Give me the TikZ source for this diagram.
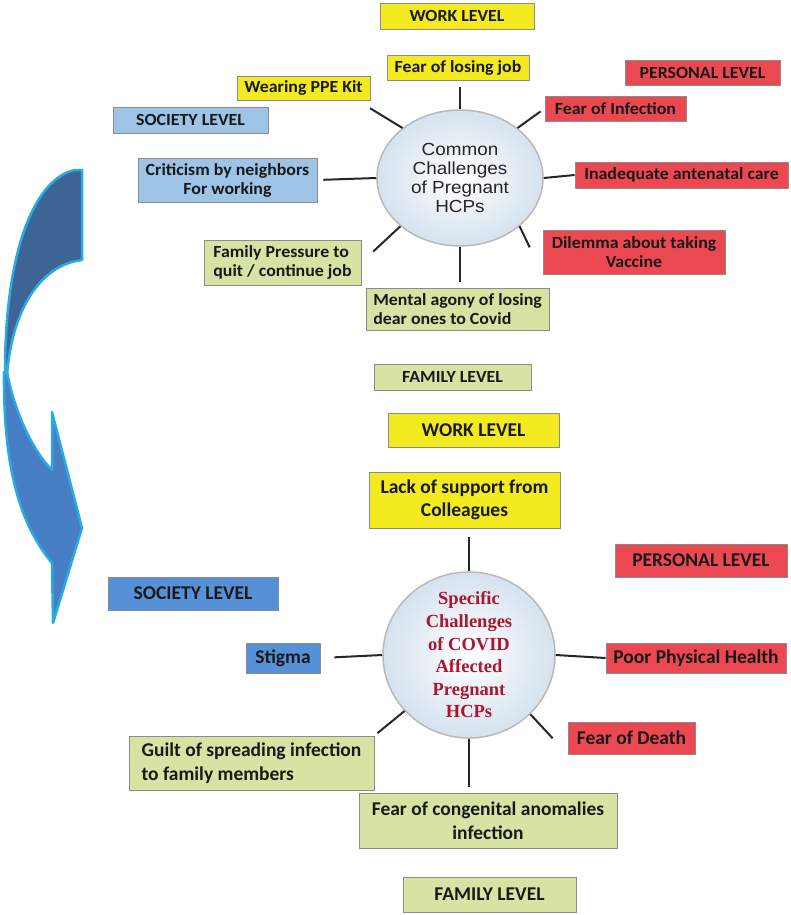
\documentclass[tikz,border=0pt]{standalone}
\usepackage{fontspec}
\usetikzlibrary{shapes.geometric,shadows}
\newfontfamily\topfont[FakeStretch=1.05]{Carlito}
\newfontfamily\botfont{Carlito}
\newfontfamily\hubfont[FakeStretch=1.08]{Liberation Sans}
\newfontfamily\hubserif{Liberation Serif}
\definecolor{wyel}{RGB}{243,234,31}
\definecolor{pred}{RGB}{236,72,82}
\definecolor{sblue}{RGB}{157,195,230}
\definecolor{sbluedk}{RGB}{86,144,214}
\definecolor{fgreen}{RGB}{214,227,163}
\definecolor{boxline}{RGB}{140,140,140}
\definecolor{arrowdark}{RGB}{62,100,150}
\definecolor{arrowlight}{RGB}{72,126,196}
\definecolor{arrowedge}{RGB}{40,170,226}
\definecolor{hubred}{RGB}{170,22,48}
\definecolor{hubrim}{RGB}{214,226,238}
\begin{document}
\begin{tikzpicture}[x=1pt, y=-1pt,
	box/.style={draw=boxline, line width=0.8pt, inner sep=0pt, text=black!90, align=center, drop shadow={shadow xshift=1.2pt, shadow yshift=-1.2pt, opacity=0.3}},
	tbox/.style={box, font=\topfont\bfseries\fontsize{17}{19}\selectfont},
	bbox/.style={box, font=\botfont\bfseries\fontsize{19.5}{23.5}\selectfont},
	hub/.style={ellipse, draw=gray!55, line width=1.5pt, inner sep=0pt, inner color=white, outer color=hubrim},
	spoke/.style={line width=2pt, black!85}]
\useasboundingbox (0,0) rectangle (790,915);
\filldraw[fill=arrowlight, draw=arrowedge, line width=2.5pt, line join=round] (7,372) .. controls (14,410) and (32,450) .. (52,470) -- (52,412) -- (82,528) -- (53,623) -- (52,563) .. controls (25,530) and (3,480) .. (4,372) -- cycle;
\filldraw[fill=arrowdark, draw=arrowedge, line width=2.5pt, line join=round] (82,170) -- (82,260) .. controls (40,265) and (12,310) .. (7,375) -- (5,372) .. controls (5,250) and (35,178) .. (75,170) -- cycle;
\node[hub, minimum width=166, minimum height=136] (c1) at (460,178) {};
\node[font=\hubfont\fontsize{17.5}{19}\selectfont, align=center, text=black!85] (c1txt) at (c1.center) {Common\\Challenges\\of Pregnant\\HCPs};
\node[tbox, fill=wyel, minimum width=154, minimum height=26] (wk1) at (457,16) {WORK LEVEL};
\node[tbox, fill=wyel, minimum width=142, minimum height=25] (jobloss) at (458,67.5) {Fear of losing job};
\node[tbox, fill=wyel, minimum width=133, minimum height=24] (ppe) at (303.5,88) {Wearing PPE Kit};
\node[tbox, fill=pred, minimum width=155, minimum height=25] (ps1) at (702.5,72.5) {PERSONAL LEVEL};
\node[tbox, fill=sblue, minimum width=155, minimum height=26] (so1) at (190.5,120) {SOCIETY LEVEL};
\node[tbox, fill=pred, minimum width=141, minimum height=25] (infect) at (615.5,108.5) {Fear of Infection};
\node[tbox, fill=sblue, minimum width=179, minimum height=44] (critic) at (227.5,180) {Criticism by neighbors\\For working};
\node[tbox, fill=pred, minimum width=213, minimum height=26] (inadeq) at (681.5,175) {Inadequate antenatal care};
\node[tbox, fill=fgreen, align=left, minimum width=157, minimum height=45] (famp) at (282.5,262.5) {Family Pressure to\\quit / continue job};
\node[tbox, fill=pred, minimum width=182, minimum height=44] (dilem) at (634,252) {Dilemma about taking\\Vaccine};
\node[tbox, fill=fgreen, align=left, minimum width=183, minimum height=42] (mental) at (457.5,309) {Mental agony of losing\\dear ones to Covid};
\node[tbox, fill=fgreen, minimum width=157, minimum height=26] (fam1) at (452.5,377) {FAMILY LEVEL};
\foreach \s/\t/\k in {c1.north/c1.north |- jobloss.south/7, c1.139/ppe.-13/15, c1.41/infect.west/5, c1.west/critic.east/6, c1.east/inadeq.west/0, c1.-141/famp.east/16, c1.-39/dilem.south west/30, c1.south/c1.south |- mental.north/6}
	\draw[spoke, shorten >=\k] (\s) -- (\t);
\node[hub, minimum width=172, minimum height=166] (c2) at (469,655) {};
\node[font=\hubserif\bfseries\fontsize{18.5}{22.6}\selectfont, align=center, text=hubred] (c2txt) at (c2.center) {Specific\\Challenges\\of COVID\\Affected\\Pregnant\\HCPs};
\node[bbox, fill=wyel, minimum width=171, minimum height=34] (wk2) at (473.5,430) {WORK LEVEL};
\node[bbox, fill=wyel, minimum width=191, minimum height=56] (lack) at (464.5,500) {Lack of support from\\Colleagues};
\node[bbox, fill=pred, minimum width=172, minimum height=33] (ps2) at (701,560.5) {PERSONAL LEVEL};
\node[bbox, fill=sbluedk, minimum width=170, minimum height=33] (so2) at (193,593.5) {SOCIETY LEVEL};
\node[bbox, fill=sbluedk, minimum width=74, minimum height=30] (stigma) at (283,658) {Stigma};
\node[bbox, fill=pred, minimum width=180, minimum height=30] (poor) at (696,658) {Poor Physical Health};
\node[bbox, fill=pred, minimum width=127, minimum height=32] (death) at (631.5,738) {Fear of Death};
\node[bbox, fill=fgreen, align=left, minimum width=245, minimum height=54] (guilt) at (251.5,763) {Guilt of spreading infection\\to family members};
\node[bbox, fill=fgreen, minimum width=258, minimum height=55] (congen) at (488,820.5) {Fear of congenital anomalies\\infection};
\node[bbox, fill=fgreen, minimum width=173, minimum height=35] (fam2) at (489.5,894.5) {FAMILY LEVEL};
\foreach \s/\t/\k in {c2.north/c2.north |- lack.south/9, c2.west/stigma.east/14, c2.east/poor.west/0, c2.-44/death.south west/22, c2.221/guilt.north east/4, c2.south/c2.south |- congen.north/6}
	\draw[spoke, shorten >=\k] (\s) -- (\t);
\end{tikzpicture}
\end{document}
